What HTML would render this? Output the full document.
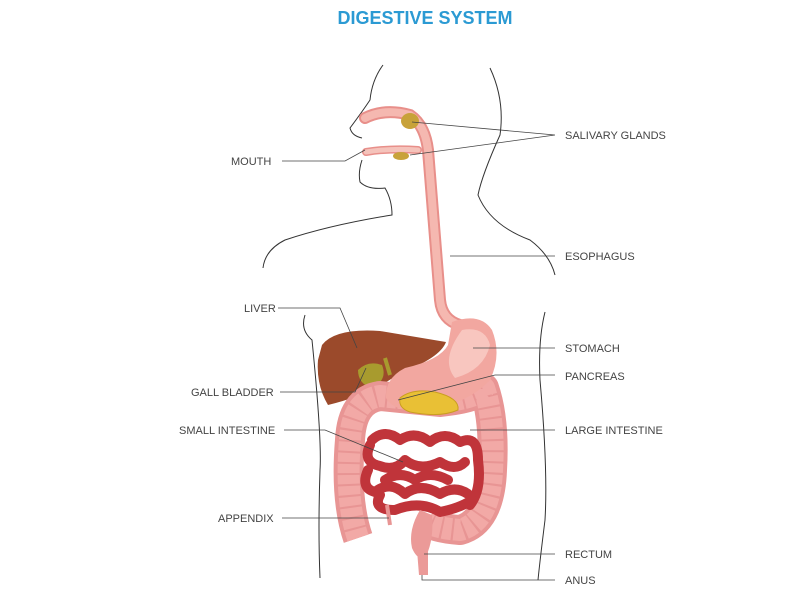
<!DOCTYPE html>
<html><head><style>
body{margin:0;background:#fff;}
svg{display:block}
text{font-family:"Liberation Sans",sans-serif;font-size:11px;fill:#444;}
</style></head><body>
<svg width="800" height="600" viewBox="0 0 800 600">
<text x="425" y="24" text-anchor="middle" style="font-size:18px;font-weight:bold;fill:#2b9ad3">DIGESTIVE SYSTEM</text>
<g fill="none" stroke="#333" stroke-width="1">
<path d="M383,65 Q372,80 370,100 Q362,112 350,128 Q352,136 362,138"/>
<path d="M362,160 Q358,172 360,182 Q368,190 385,188 Q392,200 392,215 Q330,225 285,240 Q265,250 263,268"/>
<path d="M490,68 Q505,100 500,135 Q482,175 478,195 Q490,225 530,240 Q550,255 555,275"/>
<path d="M305,315 Q300,330 312,340 Q322,440 320,470 Q318,530 320,578"/>
<path d="M545,312 Q538,340 540,380 Q548,470 545,520 Q540,560 538,580"/>
</g>
<!-- esophagus -->
<path d="M365,118 Q385,108 410,115 Q425,125 428,150 L440,300 Q442,320 460,325" fill="none" stroke="#e88f8a" stroke-width="12" stroke-linecap="round"/>
<path d="M365,118 Q385,108 410,115 Q425,125 428,150 L440,300 Q442,320 460,325" fill="none" stroke="#f5b8b0" stroke-width="8" stroke-linecap="round"/>
<path d="M366,152 Q390,148 418,150" fill="none" stroke="#e88f8a" stroke-width="8" stroke-linecap="round"/>
<path d="M366,152 Q390,148 418,150" fill="none" stroke="#f5c3bb" stroke-width="5" stroke-linecap="round"/>
<ellipse cx="410" cy="121" rx="9" ry="8" fill="#c8a23a"/>
<ellipse cx="401" cy="156" rx="8" ry="4" fill="#c8a23a"/>
<!-- liver -->
<path d="M322,345 Q335,328 380,331 L446,342 Q440,358 400,373 Q370,395 328,405 Q316,385 318,360 Z" fill="#9b4a2b"/>
<path d="M358,370 Q368,360 382,365 Q388,380 372,388 Q358,384 358,370 Z" fill="#a89b2e"/>
<path d="M385,358 L390,375" stroke="#a89b2e" stroke-width="4"/>
<!-- large intestine -->
<path d="M358,538 Q345,500 350,440 Q352,400 380,396 L440,402 Q478,398 484,388 Q495,420 492,470 Q490,522 460,530 Q432,528 425,520" fill="none" stroke="#e89594" stroke-width="30" stroke-linejoin="round"/>
<path d="M358,538 Q345,500 350,440 Q352,400 380,396 L440,402 Q478,398 484,388 Q495,420 492,470 Q490,522 460,530 Q432,528 425,520" fill="none" stroke="#f2a9a6" stroke-width="22" stroke-linejoin="round" stroke-dasharray="9 2"/>
<!-- stomach -->
<path d="M452,322 Q480,312 492,330 Q502,355 490,380 Q470,402 430,410 Q395,414 386,398 Q385,378 405,368 Q440,360 448,345 Z" fill="#f2a7a0"/>
<path d="M462,330 Q485,326 490,345 Q484,370 455,378 Q440,360 462,330 Z" fill="#f8c6bf"/>
<!-- pancreas -->
<path d="M400,398 Q412,388 435,392 Q460,398 458,410 Q440,418 410,412 Q398,408 400,398 Z" fill="#e9c035" stroke="#c99e20"/>
<!-- small intestine -->
<g fill="none" stroke="#c0343a" stroke-width="10" stroke-linecap="round" stroke-linejoin="round">
<path d="M372,440 Q385,428 400,440 Q415,430 430,442 Q445,430 460,442 Q478,434 478,460 Q482,490 470,505"/>
<path d="M370,445 Q362,462 380,466 Q395,472 405,460 Q420,472 440,462 Q455,472 465,462"/>
<path d="M368,470 Q360,488 375,492 Q390,480 405,494 Q420,482 440,494 Q455,485 468,494"/>
<path d="M380,495 Q372,510 395,510 Q420,500 440,512 Q460,508 472,500"/>
<path d="M385,480 Q400,470 415,480 Q430,470 448,480"/>
</g>
<!-- rectum -->
<path d="M420,510 Q408,530 412,548 Q418,562 426,556 Q434,540 432,515 Z" fill="#eb9a98"/>
<path d="M417,550 L419,575 L428,575 L428,550 Z" fill="#eb9a98"/>
<path d="M387,505 L390,525" stroke="#e89594" stroke-width="4"/>
<!-- leader lines -->
<g stroke="#444" stroke-width="0.8" fill="none">
<path d="M412,122 L555,135 M410,155 L555,135"/>
<path d="M282,161 L345,161 L365,150"/>
<path d="M278,308 L340,308 L357,348"/>
<path d="M280,392 L355,392 L366,368"/>
<path d="M284,430 L325,430 L403,462"/>
<path d="M282,518 L389,518"/>
<path d="M450,256 L555,256"/>
<path d="M473,348 L555,348"/>
<path d="M398,400 L495,375 L555,375"/>
<path d="M470,430 L555,430"/>
<path d="M424,554 L555,554"/>
<path d="M422,575 L422,580 L555,580"/>
</g>
<text x="231" y="165">MOUTH</text>
<text x="244" y="312">LIVER</text>
<text x="191" y="396">GALL BLADDER</text>
<text x="179" y="434">SMALL INTESTINE</text>
<text x="218" y="522">APPENDIX</text>
<text x="565" y="139">SALIVARY GLANDS</text>
<text x="565" y="260">ESOPHAGUS</text>
<text x="565" y="352">STOMACH</text>
<text x="565" y="380">PANCREAS</text>
<text x="565" y="434">LARGE INTESTINE</text>
<text x="565" y="558">RECTUM</text>
<text x="565" y="584">ANUS</text>
</svg>
</body></html>
